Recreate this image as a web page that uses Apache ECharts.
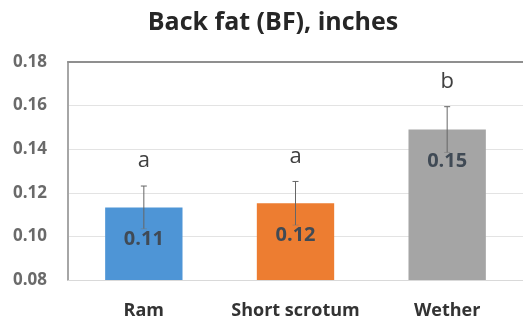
<!DOCTYPE html>
<html><head><meta charset="utf-8">
<script src="https://cdn.jsdelivr.net/npm/echarts@6/dist/echarts.min.js"></script>
<style>html,body{margin:0;padding:0;background:#fff}#c{width:523px;height:324px}</style>
</head><body><div id="c"></div>
<script>
const title = "Back fat (BF), inches";
const categories = ["Ram", "Short scrotum", "Wether"];
const means = [0.1133, 0.1152, 0.1490];
const labels = ["0.11", "0.12", "0.15"];
const errors = [0.0098, 0.0100, 0.0105];
const letters = ["a", "a", "b"];
const colors = ["#4e95d6", "#ed7d31", "#a5a5a5"];
const yTicks = [0.08, 0.10, 0.12, 0.14, 0.16, 0.18];

const chart = echarts.init(document.getElementById('c'));
chart.setOption({
  animation: false,
  title: { text: title, left: 268, textAlign: 'center', top: 5,
    textStyle: { fontFamily: 'Open Sans', fontWeight: 'bold', fontSize: 25, color: '#262626' } },
  grid: { left: 68, right: 0, top: 62, bottom: 44 },
  xAxis: [{
    type: 'category', data: categories,
    axisLine: { lineStyle: { color: '#d9d9d9' } }, axisTick: { show: false },
    axisLabel: { interval: 0, hideOverlap: false, margin: 22, fontFamily: 'Open Sans', fontWeight: 'bold', fontSize: 18, color: '#333' }
  }, {
    type: 'category', data: categories, position: 'top',
    axisLine: { lineStyle: { color: '#8f8f8f', width: 2 } }, axisTick: { show: false }, axisLabel: { show: false }
  }],
  yAxis: {
    type: 'value', min: yTicks[0], max: yTicks[yTicks.length - 1], interval: 0.02,
    axisLine: { show: true, lineStyle: { color: '#a6a6a6', width: 2 } }, axisTick: { show: false },
    splitLine: { lineStyle: { color: '#e3e3e3' } },
    axisLabel: { margin: 21, fontFamily: 'Open Sans', fontWeight: 'bold', fontSize: 17, color: '#6a6a6a',
      formatter: v => v.toFixed(2) }
  },
  series: [{
    type: 'bar', barWidth: '51%',
    data: means.map((v, i) => ({ value: v, itemStyle: { color: colors[i] } })),
    label: { show: true, position: 'insideTop', distance: 22,
      formatter: p => labels[p.dataIndex],
      fontFamily: 'Open Sans', fontWeight: 'bold', fontSize: 20, color: '#404a55' }
  }, {
    type: 'custom',
    data: means.map((v, i) => [i, v, errors[i]]),
    renderItem: (params, api) => {
      const i = api.value(0), m = api.value(1), e = api.value(2);
      const top = api.coord([i, m + e]);
      const bot = api.coord([i, m - e]);
      const x = top[0];
      return { type: 'group', children: [
        { type: 'line', shape: { x1: x, y1: top[1], x2: x, y2: bot[1] }, style: { stroke: '#666', lineWidth: 1 } },
        { type: 'line', shape: { x1: x - 3, y1: top[1], x2: x + 3, y2: top[1] }, style: { stroke: '#666', lineWidth: 1 } },
        { type: 'line', shape: { x1: x - 3, y1: bot[1], x2: x + 3, y2: bot[1] }, style: { stroke: '#777', lineWidth: 1, opacity: 0.5 } },
        { type: 'text', x: x, y: top[1] - 25, style: { text: letters[i], textAlign: 'center', textVerticalAlign: 'middle',
          fontFamily: 'Open Sans', fontSize: 22, fill: '#404040' } }
      ]};
    },
    z: 5
  }]
});
</script></body></html>
